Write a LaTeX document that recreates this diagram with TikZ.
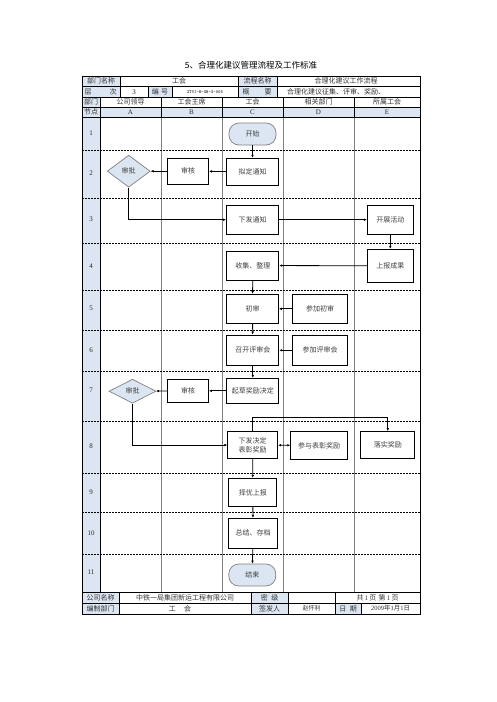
\documentclass[tikz,border=0pt]{standalone}
\usepackage{fontspec}
\setmainfont{Noto Sans CJK SC}
\newfontfamily\lat{Liberation Serif}
\usetikzlibrary{shapes.geometric,arrows.meta}
\definecolor{lb}{HTML}{DCE6F2}
\definecolor{gl}{HTML}{808080}
\begin{document}
\begin{tikzpicture}[x=1pt,y=-1pt,
  txt/.style={inner sep=0pt,font=\fontsize{7pt}{8pt}\selectfont,text=black!80},
  lbl/.style={inner sep=0pt,font=\fontsize{7pt}{8pt}\selectfont\lat,text=black!85},
  stepbox/.style={draw=black,line width=0.8pt,fill=white,minimum width=52pt,minimum height=27pt,inner sep=1pt,
    font=\fontsize{7pt}{9pt}\selectfont,text=black!75,align=center},
  termbox/.style={draw=gl,line width=0.7pt,fill=lb,rounded corners=10pt,minimum width=47pt,minimum height=22pt,inner sep=1pt,
    font=\fontsize{7pt}{9pt}\selectfont,text=black!75},
  decbox/.style={draw=gl,line width=0.7pt,fill=lb,diamond,inner sep=0pt,
    font=\fontsize{7pt}{9pt}\selectfont,text=black!75},
  arr/.style={draw=black,line width=0.8pt,-{Latex[length=3pt,width=2.6pt]}},
  grid/.style={draw=gl,line width=0.6pt},
  rowsep/.style={draw=black,line width=0.6pt,dash pattern=on 2pt off 1pt}]
\useasboundingbox (0,0) rectangle (496,702);
\fill[white] (0,0) rectangle (496,702);
% title
\node[inner sep=0pt,font=\fontsize{8.5pt}{10pt}\selectfont] (title) at (251,65) {5、合理化建议管理流程及工作标准};
% ===== header fills
\fill[lb] (82,76) rectangle (120,86.5);
\fill[lb] (238,76) rectangle (277,86.5);
\fill[lb] (82,86.5) rectangle (120,97);
\fill[lb] (148,86.5) rectangle (172,97);
\fill[lb] (238,86.5) rectangle (277,97);
\fill[lb] (82,97) rectangle (100,107);
\fill[lb] (82,107) rectangle (420,117);
% header lines
\draw[line width=0.6pt] (82,86.5) -- (420,86.5) (82,97) -- (420,97) (82,107) -- (420,107);
\draw[line width=0.6pt] (120,76) -- (120,97) (238,76) -- (238,97) (277,76) -- (277,97)
  (148,86.5) -- (148,97) (172,86.5) -- (172,97);
\draw[line width=0.6pt] (100,97) -- (100,117) (161,97) -- (161,117) (222,97) -- (222,117)
  (283,97) -- (283,117) (354,97) -- (354,117);
\draw[line width=1pt] (82,76) rectangle (420,117);
% header texts
\node[txt] (h1) at (101,81.3) {部门名称};
\node[txt] (h2) at (179,81.3) {工会};
\node[txt] (h3) at (257.5,81.3) {流程名称};
\node[txt] (h4) at (346,81.3) {合理化建议工作流程};
\node[txt] (h5) at (88,91.8) {层};
\node[txt] (h6) at (113,91.8) {次};
\node[lbl] (h7) at (134,91.8) {3};
\node[txt] (h8) at (160,91.8) {编\,\,号};
\node[inner sep=0pt,font=\fontsize{4.5pt}{5pt}\selectfont\ttfamily] (h9) at (205,91.8) {ZTYJ-B-GH-3-005};
\node[txt] (h10) at (246,91.8) {概};
\node[txt] (h11) at (268,91.8) {要};
\node[txt] (h12) at (336,91.8) {合理化建议征集、评审、奖励、};
\node[txt] (h13) at (91,102) {部门};
\node[txt] (h14) at (130.5,102) {公司领导};
\node[txt] (h15) at (191.5,102) {工会主席};
\node[txt] (h16) at (252.5,102) {工会};
\node[txt] (h17) at (318.5,102) {相关部门};
\node[txt] (h18) at (387,102) {所属工会};
\node[txt] (h19) at (91,112) {节点};
\node[lbl] (hA) at (130.5,112) {A};
\node[lbl] (hB) at (191.5,112) {B};
\node[lbl] (hC) at (252.5,112) {C};
\node[lbl] (hD) at (318.5,112) {D};
\node[lbl] (hE) at (387,112) {E};
% ===== body
\fill[lb] (82,117) rectangle (100,592);
\draw[grid] (161,117) -- (161,592) (222,117) -- (222,592) (283,117) -- (283,592) (354,117) -- (354,592);
\foreach \yy in {150.7,198.3,243.3,290,330,371.7,421.7,473.3,512.7,554.3}
  \draw[rowsep] (82,\yy) -- (420,\yy);
\draw[line width=0.8pt] (100,117) -- (100,592);
\draw[line width=1pt] (82,117) rectangle (420,592);
% row numbers
\node[lbl] (r1) at (91,133.3) {1};
\node[lbl] (r2) at (91,173.3) {2};
\node[lbl] (r3) at (91,219.3) {3};
\node[lbl] (r4) at (91,265.7) {4};
\node[lbl] (r5) at (91,308.3) {5};
\node[lbl] (r6) at (91,350) {6};
\node[lbl] (r7) at (91,390.7) {7};
\node[lbl] (r8) at (91,446) {8};
\node[lbl] (r9) at (91,492.7) {9};
\node[lbl] (r10) at (91,532.7) {10};
\node[lbl] (r11) at (91,571.7) {11};
% nodes
\node[termbox] (ks) at (252.5,134) {开始};
\node[stepbox] (nz) at (252.5,171.7) {拟定通知};
\node[stepbox,minimum width=41pt,minimum height=26pt] (sh2) at (188,171.2) {审核};
\node[decbox,minimum width=43pt,minimum height=32pt] (sp2) at (128.7,171.2) {审批};
\node[stepbox,minimum height=29pt] (xf) at (252.5,219.7) {下发通知};
\node[stepbox,minimum width=46pt,minimum height=29pt] (kz) at (390.3,219.7) {开展活动};
\node[stepbox,minimum width=46pt,minimum height=33pt] (sb) at (390.3,265.8) {上报成果};
\node[stepbox,minimum width=52pt,minimum height=29pt] (sj) at (252.8,265.5) {收集、整理};
\node[stepbox,minimum height=29pt] (cs) at (252.5,308.8) {初审};
\node[stepbox,minimum width=55pt,minimum height=29pt] (cjcs) at (320,308.8) {参加初审};
\node[stepbox,minimum height=30.5pt] (zk) at (252.8,350.3) {召开评审会};
\node[stepbox,minimum width=55pt,minimum height=30.5pt] (cjps) at (320,350.3) {参加评审会};
\node[stepbox,minimum height=25pt] (qc) at (252.8,390.8) {起草奖励决定};
\node[stepbox,minimum width=41pt,minimum height=23pt] (sh7) at (188,390.8) {审核};
\node[decbox,minimum width=47pt,minimum height=24pt] (sp7) at (132.5,391.2) {审批};
\node[stepbox,minimum width=50pt,minimum height=27pt] (xj) at (252.7,445) {下发决定\\表彰奖励};
\node[stepbox,minimum width=57pt,minimum height=27.5pt] (cy) at (319.2,445.5) {参与表彰奖励};
\node[stepbox,minimum width=54pt,minimum height=27pt] (ls) at (387.8,445) {落实奖励};
\node[stepbox,minimum width=48pt,minimum height=28.5pt] (zy) at (252.8,492.5) {择优上报};
\node[stepbox,minimum width=49pt,minimum height=30pt] (zj) at (253,533.3) {总结、存档};
\node[termbox] (js) at (252.3,575) {结束};
% connectors
\draw[arr] (ks) -- (nz);
\draw[arr] (nz) -- (sh2);
\draw[arr] (sh2) -- (sp2);
\draw[arr] (sp2.south) |- (xf.west);
\draw[arr] (xf) -- (kz);
\draw[arr] (kz) -- (sb);
\draw[arr] (sb) -- (sj);
\draw[arr] (sj) -- (cs);
\draw[arr] (cjcs) -- (cs);
\draw[arr] (cs) -- (zk);
\draw[arr] (cjps) -- (zk);
\draw[arr] (zk) -- (qc);
\draw[arr] (qc) -- (sh7);
\draw[arr] (sh7) -- (sp7);
\draw[arr] (sp7.south) |- (xj.west);
\draw[draw=black,line width=0.8pt,{Latex[length=3pt,width=2.6pt]}-{Latex[length=3pt,width=2.6pt]}] (xj) -- (cy);
\coordinate (t8) at (252.7,417.3);
\draw[arr] (xj.north) -- (t8) -| (ls.north);
\draw[arr] (xj) -- (zy);
\draw[arr] (zy) -- (zj);
\draw[arr] (zj) -- (js);
% ===== footer
\fill[lb] (82,592) rectangle (119,614);
\fill[lb] (251,592) rectangle (288,614);
\fill[lb] (335,603) rectangle (361,614);
\draw[line width=0.6pt] (82,603) -- (420,603);
\draw[line width=0.6pt] (119,592) -- (119,614) (251,592) -- (251,614) (288,592) -- (288,614)
  (335,592) -- (335,614) (361,603) -- (361,614);
\draw[line width=1pt] (82,592) rectangle (420,614);
\node[txt] (f1) at (100.5,597.5) {公司名称};
\node[txt] (f2) at (185,597.5) {中铁一局集团新运工程有限公司};
\node[txt] (f3) at (269.5,597.5) {密\,\,\,级};
\node[txt] (f4) at (377.5,597.5) {共\,{\lat 1}\,页\,\,第\,{\lat 1}\,页};
\node[txt] (f5) at (100.5,608.5) {编制部门};
\node[txt] (f6) at (180,608.5) {工\quad\,会};
\node[txt] (f7) at (269.5,608.5) {签发人};
\node[txt,font=\fontsize{6pt}{7pt}\selectfont] (f8) at (311.7,608.5) {赵怀利};
\node[txt] (f9) at (348,608.5) {日\,\,\,期};
\node[txt,font=\fontsize{6.5pt}{7pt}\selectfont] (f10) at (390.5,608.5) {{\lat 2009}年{\lat 1}月{\lat 1}日};
\end{tikzpicture}
\end{document}
